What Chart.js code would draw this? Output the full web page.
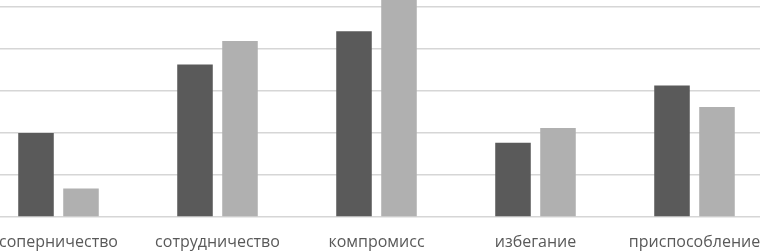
<!DOCTYPE html>
<html>
<head>
<meta charset="utf-8">
<script src="https://cdn.jsdelivr.net/npm/chart.js@4"></script>
<style>
  html, body { margin: 0; padding: 0; background: #fff; overflow: hidden; width: 760px; height: 252px; }
  #wrap { position: absolute; left: -41px; top: -60px; width: 840px; height: 320px; }
</style>
</head>
<body>
<div id="wrap"><canvas id="chart"></canvas></div>
<script>
const categories = ["соперничество", "сотрудничество", "компромисс", "избегание", "приспособление"]
const seriesA = [20, 36.3, 44.2, 17.7, 31.3]
const seriesB = [6.8, 41.9, 55, 21.2, 26.2]
const yTicks = [0, 10, 20, 30, 40, 50, 60]

const ctx = document.getElementById("chart").getContext("2d")
new Chart(ctx, {
  type: "bar",
  data: {
    labels: categories,
    datasets: [
      { label: "A", data: seriesA, backgroundColor: "#5a5a5a", categoryPercentage: 0.566, barPercentage: 0.79 },
      { label: "B", data: seriesB, backgroundColor: "#b0b0b0", categoryPercentage: 0.566, barPercentage: 0.79 },
    ],
  },
  options: {
    responsive: true,
    maintainAspectRatio: false,
    animation: false,
    layout: { padding: { left: 20, right: 25, top: 25, bottom: 0 } },
    plugins: { legend: { display: false }, tooltip: { enabled: false } },
    scales: {
      x: {
        grid: { display: false, drawTicks: false },
        border: { display: false },
        ticks: { color: "#595959", font: { family: "'Open Sans'", size: 16 }, padding: 16, maxRotation: 0, autoSkip: false },
        afterFit: (s) => { s.height = 43 },
      },
      y: {
        min: yTicks[0],
        max: yTicks[yTicks.length - 1],
        afterBuildTicks: (s) => { s.ticks = yTicks.map(v => ({ value: v })) },
        grid: { color: "#d6d6d6", lineWidth: 1.5, drawTicks: false },
        border: { display: false },
        ticks: { display: false },
        afterFit: (s) => { s.width = 0 },
      },
    },
  },
})
</script>
</body>
</html>
